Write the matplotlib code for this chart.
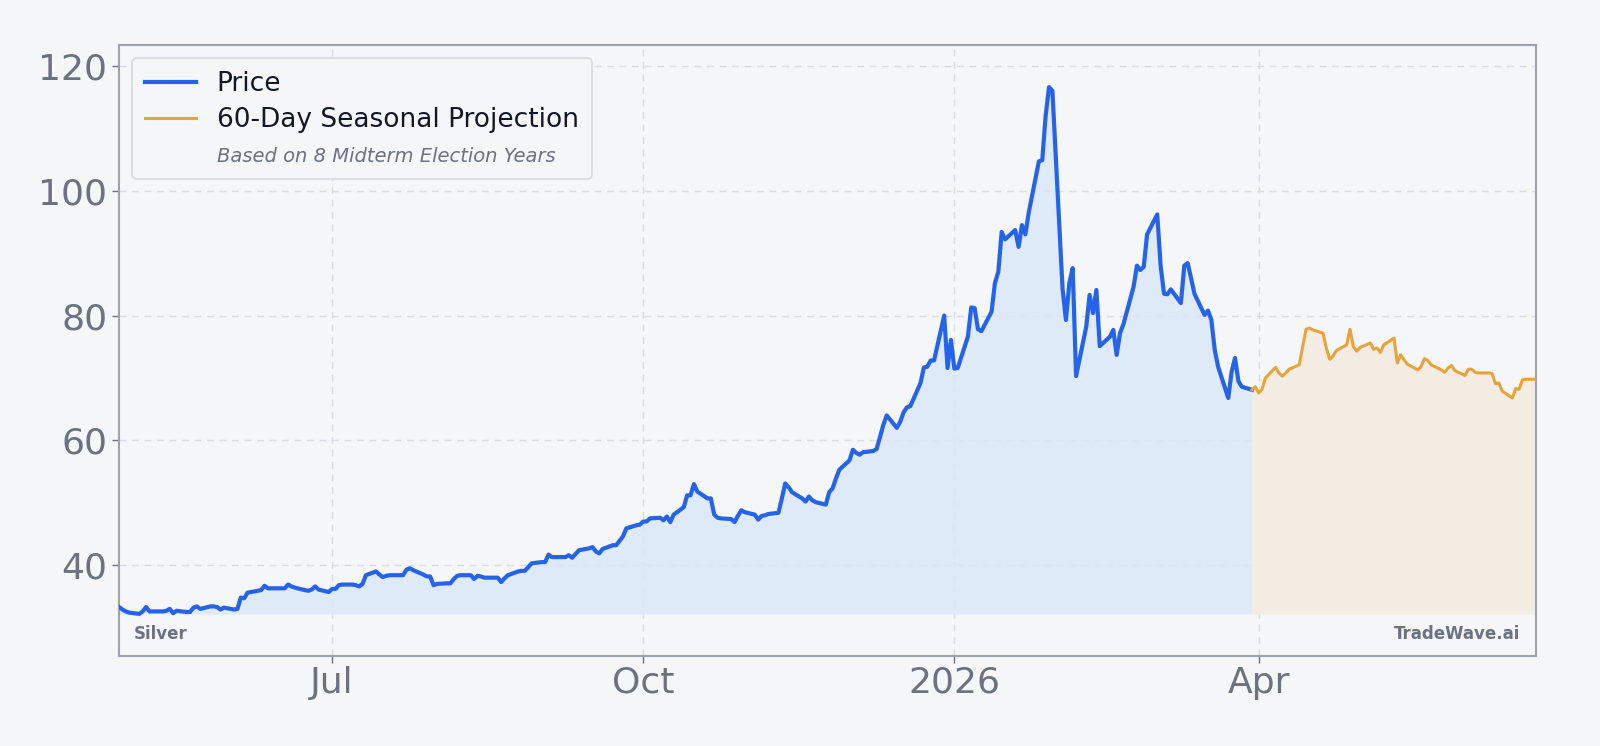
import matplotlib
matplotlib.use("Agg")
import matplotlib.pyplot as plt
import matplotlib.dates as mdates
from matplotlib.lines import Line2D
import numpy as np
import pandas as pd

# Datos
start_date = "2025-04-29"
price = [
    33.3, 32.9, 32.6, 32.4, 32.2, 32.6, 33.3, 32.6, 32.6, 32.6,
    32.7, 33.0, 32.3, 32.7, 32.5, 32.5, 33.2, 33.4, 33.0, 33.4,
    33.4, 33.3, 32.9, 33.2, 32.9, 33.0, 34.8, 34.7, 35.6, 35.9,
    36.0, 36.7, 36.3, 36.3, 36.3, 36.3, 36.9, 36.6, 36.4, 36.0,
    35.9, 36.1, 36.6, 36.1, 35.7, 36.2, 36.2, 36.8, 36.9, 36.9,
    36.8, 36.6, 37.0, 38.4, 39.0, 38.5, 38.1, 38.3, 38.4, 38.4,
    38.4, 39.3, 39.5, 39.2, 38.5, 38.2, 38.2, 36.8, 37.0, 37.1,
    37.1, 37.8, 38.3, 38.4, 38.4, 37.8, 38.3, 38.2, 38.0, 38.0,
    38.0, 37.3, 37.9, 38.4, 39.0, 39.1, 39.1, 39.7, 40.3, 40.5,
    40.5, 41.7, 41.3, 41.3, 41.3, 41.6, 41.2, 41.8, 42.4, 42.7,
    42.9, 42.2, 41.9, 42.6, 43.2, 43.2, 43.9, 44.6, 45.9, 46.4,
    46.5, 47.0, 47.0, 47.5, 47.6, 47.2, 47.8, 46.9, 48.1, 49.3,
    51.2, 51.2, 53.0, 51.8, 50.7, 50.7, 48.1, 47.6, 47.5, 47.4,
    46.9, 47.9, 48.8, 48.5, 48.1, 47.3, 47.9, 48.0, 48.2, 48.4,
    50.7, 53.1, 52.5, 51.7, 50.7, 50.2, 51.0, 50.4, 50.1, 49.7,
    51.7, 52.3, 53.9, 55.3, 56.8, 58.5, 58.0, 57.7, 58.1, 58.3,
    58.6, 60.5, 62.5, 64.0, 62.0, 63.0, 64.5, 65.3, 65.5, 69.2,
    71.7, 71.8, 72.8, 72.8, 80.0, 71.6, 76.1, 71.5, 71.6, 76.6,
    81.3, 81.2, 77.8, 77.5, 80.6, 85.2, 87.0, 93.4, 92.2, 93.7,
    91.0, 94.5, 93.0, 96.5, 104.7, 104.9, 112.0, 116.6, 116.0, 84.3,
    79.3, 85.2, 87.6, 70.3, 78.2, 83.3, 80.4, 84.1, 75.1, 76.6,
    77.7, 73.7, 77.2, 78.6, 84.6, 88.0, 87.3, 87.8, 93.0, 96.2,
    88.0, 83.5, 83.4, 84.2, 82.0, 88.0, 88.4, 86.0, 83.5, 80.1,
    80.8, 79.3, 74.5, 71.8, 66.8, 71.0, 73.2, 69.5, 68.6, 68.1,
]
projection = [
    68.1, 68.6, 67.6, 68.2, 70.0, 71.7, 70.8, 70.3, 70.8, 71.4,
    72.1, 75.0, 77.8, 78.0, 77.7, 77.2, 74.8, 73.0, 73.5, 74.4,
    75.3, 77.8, 75.0, 74.3, 74.9, 75.6, 74.6, 74.8, 74.1, 75.3,
    76.4, 72.4, 73.7, 72.9, 72.2, 71.3, 71.8, 73.1, 72.8, 72.1,
    71.3, 70.9, 71.6, 72.0, 71.2, 70.4, 71.4, 71.4, 70.9, 70.8,
    70.8, 70.7, 69.1, 69.2, 67.9, 66.8, 68.3, 68.2, 69.7, 69.8,
    69.8,
]
asset_name = "Silver"
brand = "TradeWave.ai"
price_label = "Price"
proj_label = "60-Day Seasonal Projection"
proj_note = "Based on 8 Midterm Election Years"

price_dates = pd.bdate_range(start_date, periods=len(price))
proj_dates = pd.bdate_range(price_dates[-1], periods=len(projection))

bg = "#f4f6f8"
blue = "#2563eb"
orange = "#e8a33a"
gray = "#6b7280"

fig = plt.figure(figsize=(16, 7.46), dpi=100, facecolor=bg)
ax = fig.add_axes([0.0744, 0.1206, 0.8856, 0.8191])
ax.set_facecolor(bg)

base = min(price)
ax.fill_between(price_dates, price, base, color="#dbe8f7", alpha=0.85, lw=0)
ax.fill_between(proj_dates, projection, base, color="#f2ece3", alpha=1.0, lw=0)
ax.plot(price_dates, price, color=blue, lw=3.0, label=price_label, zorder=3)
ax.plot(proj_dates, projection, color=orange, lw=2.2, label=proj_label, zorder=3)

lo, hi = min(price), max(price)
pad = (hi - lo) * 0.08
ax.set_ylim(lo - pad, hi + pad)
ax.set_xlim(price_dates[0], proj_dates[-1])
ax.set_yticks([40, 60, 80, 100, 120])

ax.xaxis.set_major_locator(mdates.MonthLocator(bymonth=[1, 4, 7, 10]))
ax.xaxis.set_major_formatter(plt.FuncFormatter(
    lambda v, p: mdates.num2date(v).strftime("%Y") if mdates.num2date(v).month == 1
    else mdates.num2date(v).strftime("%b")))

ax.grid(True, color="#d9dce1", ls=(0, (5, 4)), lw=1.0)
ax.set_axisbelow(True)
ax.tick_params(labelsize=26, colors=gray, length=5, width=1)
ax.tick_params(axis="x", pad=2)
for s in ax.spines.values():
    s.set_color("#9ca3af")
    s.set_linewidth(1.5)

# Leyenda con nota en cursiva
handles, labels = ax.get_legend_handles_labels()
handles.append(Line2D([], [], color="none"))
labels.append(proj_note)
leg = ax.legend(handles, labels, loc="upper left", fontsize=19, frameon=True,
                facecolor=bg, edgecolor="#d6d9de", framealpha=1.0,
                handlelength=1.9, labelspacing=0.38, borderpad=0.5)
leg.get_frame().set_linewidth(1.2)
for t in leg.get_texts()[:2]:
    t.set_color("#111827")
note = leg.get_texts()[2]
note.set_fontsize(14)
note.set_style("italic")
note.set_color(gray)

ax.text(0.0106, 0.036, asset_name, transform=ax.transAxes, fontsize=12,
        fontweight="bold", color=gray, ha="left", va="center")
ax.text(0.989, 0.036, brand, transform=ax.transAxes, fontsize=12,
        fontweight="bold", color=gray, ha="right", va="center")

fig.savefig("out.png", dpi=100, facecolor=bg)
